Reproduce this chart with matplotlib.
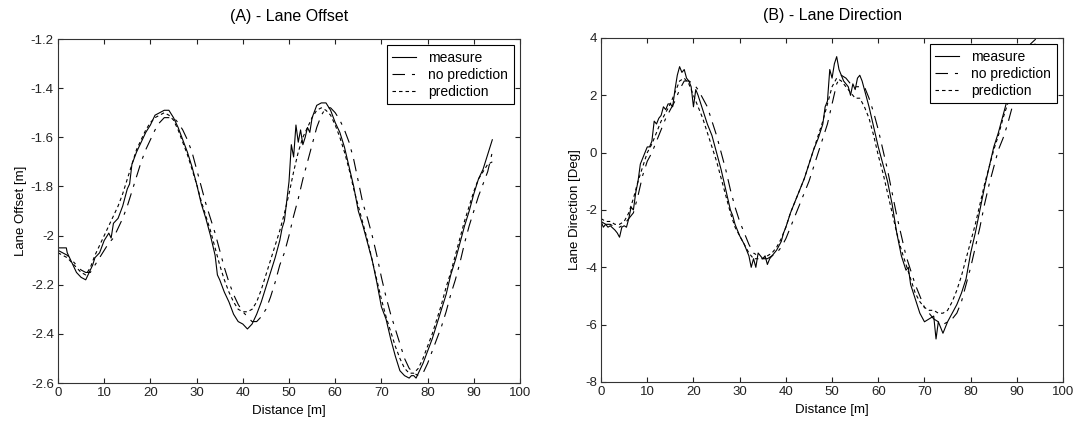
import numpy as np
import matplotlib
matplotlib.use('Agg')
import matplotlib.pyplot as plt
from matplotlib.ticker import FuncFormatter

plt.rcParams['font.family'] = ['Liberation Sans', 'DejaVu Sans']
plt.rcParams['lines.scale_dashes'] = False

# distance grid for the filtered curves [m]
dist = np.arange(0, 95)

# (A) lane offset [m]
offset_meas_x = [0, 1.8, 2, 3, 4, 5, 6, 6.5, 7, 7.5, 8, 9, 10, 11, 11.5, 12, 13, 14, 15, 15.5,
                 16, 17, 18, 19, 20, 21, 22, 23, 24, 25, 26, 27, 28, 29, 30, 31, 32, 33, 34, 34.5,
                 35, 36, 37, 38, 39, 40, 41, 42, 43, 44, 45, 46, 47, 48, 48.5, 49, 49.5, 50, 50.5, 51,
                 51.5, 52, 52.5, 53, 53.5, 54, 54.5, 55, 56, 57, 58, 59, 60, 61, 62, 63, 64, 65, 66, 67,
                 68, 69, 70, 71, 72, 73, 74, 75, 76, 76.5, 77, 77.5, 78, 79, 80, 81, 82, 83, 84, 85,
                 86, 87, 88, 89, 90, 91, 92, 93, 94]
offset_meas = [-2.05, -2.05, -2.07, -2.11, -2.15, -2.17, -2.18, -2.16, -2.14, -2.12, -2.09, -2.07, -2.02, -1.99, -2.01, -1.95, -1.93, -1.88, -1.81, -1.79,
               -1.71, -1.66, -1.62, -1.58, -1.55, -1.51, -1.50, -1.49, -1.49, -1.52, -1.56, -1.61, -1.66, -1.72, -1.79, -1.87, -1.93, -2.00, -2.08, -2.16,
               -2.18, -2.23, -2.27, -2.32, -2.35, -2.36, -2.38, -2.36, -2.32, -2.27, -2.21, -2.15, -2.09, -2.02, -1.97, -1.94, -1.86, -1.78, -1.63, -1.68,
               -1.55, -1.62, -1.57, -1.63, -1.60, -1.56, -1.58, -1.52, -1.47, -1.46, -1.46, -1.49, -1.54, -1.58, -1.64, -1.72, -1.80, -1.90, -1.96, -2.03,
               -2.10, -2.19, -2.29, -2.34, -2.42, -2.49, -2.55, -2.57, -2.58, -2.57, -2.57, -2.58, -2.56, -2.52, -2.47, -2.42, -2.36, -2.30, -2.24, -2.16,
               -2.10, -2.03, -1.96, -1.90, -1.83, -1.77, -1.73, -1.67, -1.61]
offset_nopred = [-2.06, -2.07, -2.08, -2.10, -2.12, -2.14, -2.15, -2.15, -2.12, -2.09,
                 -2.06, -2.03, -2.01, -1.97, -1.93, -1.88, -1.82, -1.76, -1.70, -1.65,
                 -1.61, -1.57, -1.54, -1.52, -1.52, -1.52, -1.54, -1.57, -1.61, -1.66,
                 -1.73, -1.80, -1.87, -1.93, -1.99, -2.06, -2.13, -2.19, -2.24, -2.28,
                 -2.31, -2.33, -2.35, -2.35, -2.33, -2.30, -2.25, -2.19, -2.12, -2.07,
                 -2.00, -1.92, -1.85, -1.77, -1.70, -1.63, -1.56, -1.51, -1.48, -1.48,
                 -1.50, -1.53, -1.57, -1.62, -1.69, -1.78, -1.87, -1.93, -2.00, -2.08,
                 -2.17, -2.25, -2.32, -2.38, -2.44, -2.50, -2.54, -2.56, -2.57, -2.56,
                 -2.52, -2.47, -2.42, -2.37, -2.31, -2.24, -2.18, -2.11, -2.03, -1.96,
                 -1.90, -1.84, -1.79, -1.74, -1.66]
offset_pred = [-2.07, -2.08, -2.09, -2.11, -2.13, -2.15, -2.16, -2.13, -2.08, -2.04,
               -2.00, -1.96, -1.92, -1.88, -1.83, -1.77, -1.71, -1.65, -1.61, -1.57,
               -1.54, -1.52, -1.51, -1.50, -1.51, -1.53, -1.57, -1.62, -1.67, -1.73,
               -1.79, -1.86, -1.92, -1.98, -2.05, -2.12, -2.18, -2.23, -2.27, -2.30,
               -2.31, -2.31, -2.30, -2.27, -2.22, -2.16, -2.10, -2.04, -1.98, -1.91,
               -1.83, -1.74, -1.66, -1.60, -1.56, -1.52, -1.49, -1.48, -1.49, -1.51,
               -1.55, -1.60, -1.66, -1.73, -1.81, -1.88, -1.95, -2.02, -2.10, -2.18,
               -2.26, -2.33, -2.39, -2.45, -2.50, -2.54, -2.56, -2.56, -2.54, -2.50,
               -2.45, -2.40, -2.34, -2.28, -2.21, -2.15, -2.08, -2.01, -1.94, -1.88,
               -1.82, -1.77, -1.74, -1.71, -1.70]

# (B) lane direction [deg]
dir_meas_x = [0, 0.5, 1, 1.5, 2, 3, 3.5, 4, 4.5, 5, 5.5, 6, 6.5, 7, 7.5, 8, 8.5, 9, 9.5, 10,
              10.5, 11, 11.5, 12, 12.5, 13, 13.5, 14, 14.5, 15, 15.5, 16, 16.5, 17, 17.5, 18, 18.5, 19, 19.5, 20,
              20.5, 21, 22, 23, 24, 25, 26, 27, 28, 28.5, 29, 30, 31, 32, 32.5, 33, 33.5, 34, 34.5, 35,
              35.5, 36, 36.5, 37, 38, 39, 39.5, 40, 41, 42, 43, 44, 45, 46, 47, 48, 48.5, 49, 49.5, 50,
              50.5, 51, 51.5, 52, 52.5, 53, 53.5, 54, 54.5, 55, 55.5, 56, 56.5, 57, 58, 59, 60, 61, 62, 63,
              64, 65, 66, 66.5, 67, 68, 69, 70, 71, 72, 72.5, 73, 74, 75, 76, 77, 78, 79, 80, 81,
              82, 83, 84, 85, 86, 87, 88, 89, 90, 91, 92, 93, 94]
dir_meas = [-2.4, -2.6, -2.5, -2.6, -2.55, -2.7, -2.8, -2.95, -2.6, -2.55, -2.6, -2.3, -1.9, -2.0, -1.4, -1.0, -0.4, -0.2, 0.0, 0.2,
            0.2, 0.4, 1.1, 1.0, 1.2, 1.3, 1.6, 1.5, 1.7, 1.7, 1.6, 2.2, 2.7, 3.0, 2.8, 2.9, 2.6, 2.5, 2.3, 1.6,
            2.2, 2.0, 1.5, 1.0, 0.6, 0.0, -0.6, -1.3, -2.0, -2.2, -2.5, -2.9, -3.2, -3.6, -4.0, -3.7, -4.0, -3.5, -3.6, -3.7,
            -3.6, -3.9, -3.7, -3.6, -3.4, -3.1, -2.8, -2.6, -2.1, -1.7, -1.3, -0.9, -0.4, 0.1, 0.5, 1.0, 1.6, 1.8, 2.9, 2.6,
            3.1, 3.35, 2.9, 2.7, 2.5, 2.4, 2.3, 2.0, 2.4, 2.2, 2.6, 2.7, 2.5, 2.2, 1.6, 0.9, 0.2, -0.4, -1.0, -1.8,
            -2.8, -3.6, -4.1, -4.0, -4.6, -5.1, -5.6, -5.9, -5.8, -5.7, -6.5, -5.9, -6.3, -5.9, -5.6, -5.3, -4.9, -4.4, -3.5, -2.8,
            -2.0, -1.2, -0.5, 0.2, 0.7, 1.3, 1.9, 2.5, 2.9, 3.3, 3.6, 3.8, 3.95]
dir_nopred = [-2.4, -2.5, -2.5, -2.6, -2.6, -2.5, -2.3, -2.1, -1.5, -0.8,
              -0.3, 0.0, 0.4, 0.8, 1.2, 1.5, 1.8, 2.2, 2.5, 2.5,
              2.4, 2.2, 1.9, 1.6, 1.1, 0.6, 0.0, -0.6, -1.3, -1.9,
              -2.4, -2.8, -3.2, -3.5, -3.6, -3.7, -3.7, -3.6, -3.5, -3.3,
              -3.0, -2.6, -2.2, -1.8, -1.4, -1.0, -0.5, 0.0, 0.5, 1.0,
              1.7, 2.4, 2.7, 2.6, 2.4, 2.3, 2.3, 2.3, 1.9, 1.4,
              0.8, 0.1, -0.6, -1.4, -2.2, -2.9, -3.6, -4.1, -4.6, -5.0,
              -5.4, -5.6, -5.8, -5.9, -6.0, -5.9, -5.8, -5.6, -5.2, -4.6,
              -4.0, -3.3, -2.6, -1.8, -1.1, -0.5, 0.1, 0.5, 1.0, 1.6,
              2.2, 2.7, 3.1, 3.5, 3.8]
dir_pred = [-2.3, -2.4, -2.4, -2.5, -2.5, -2.4, -2.1, -1.6, -1.0, -0.5,
            0.0, 0.3, 0.7, 1.1, 1.4, 1.7, 2.1, 2.5, 2.6, 2.4,
            2.0, 1.6, 1.2, 0.7, 0.2, -0.3, -0.9, -1.5, -2.1, -2.6,
            -2.9, -3.2, -3.5, -3.7, -3.7, -3.7, -3.6, -3.5, -3.3, -3.0,
            -2.6, -2.1, -1.7, -1.3, -0.9, -0.4, 0.1, 0.6, 1.1, 1.7,
            2.3, 2.6, 2.5, 2.3, 2.1, 1.9, 1.9, 1.6, 1.2, 0.6,
            -0.1, -0.7, -1.4, -2.1, -2.8, -3.4, -3.9, -4.4, -4.9, -5.2,
            -5.4, -5.5, -5.5, -5.6, -5.6, -5.5, -5.2, -4.8, -4.3, -3.7,
            -3.1, -2.5, -1.8, -1.1, -0.5, 0.1, 0.6, 1.2, 1.7, 2.2,
            2.6, 3.0, 3.3, 3.6, 3.8]

series_names = ['measure', 'no prediction', 'prediction']

fig = plt.figure(figsize=(10.76, 4.25), dpi=100)
ax1 = fig.add_axes([0.0539, 0.0988, 0.4294, 0.8094])
ax2 = fig.add_axes([0.5586, 0.1012, 0.4294, 0.8094])

fmt = FuncFormatter(lambda v, p: '%g' % round(v, 6))

def draw(ax, mx, my, nop, pre, title, ylabel, ylim, yticks):
    ax.plot(mx, my, color='black', lw=0.8, label=series_names[0])
    ax.plot(dist, nop, color='black', lw=0.8, dashes=(9, 5, 2.2, 5), label=series_names[1])
    ax.plot(dist, pre, color='black', lw=0.8, dashes=(2.5, 2.2), label=series_names[2])
    ax.set_xlim(0, 100)
    ax.set_ylim(*ylim)
    ax.set_xticks(np.arange(0, 101, 10))
    ax.set_yticks(yticks)
    ax.xaxis.set_major_formatter(fmt)
    ax.yaxis.set_major_formatter(fmt)
    ax.tick_params(direction='in', top=True, right=True, length=3.5, width=0.8,
                   labelsize=9.5, pad=3, colors='#222222')
    for s in ax.spines.values():
        s.set_linewidth(0.8)
        s.set_color('#333333')
    ax.set_title(title, fontsize=11.5, pad=13)
    ax.set_xlabel('Distance [m]', fontsize=9.5, labelpad=4.5)
    ax.set_ylabel(ylabel, fontsize=9.5, labelpad=3)
    leg = ax.legend(loc='upper right', fontsize=10, fancybox=False, framealpha=1,
                    edgecolor='black', handlelength=1.7, handletextpad=0.9,
                    borderpad=0.4, labelspacing=0.22, borderaxespad=0.45)
    leg.get_frame().set_linewidth(0.8)

draw(ax1, offset_meas_x, offset_meas, offset_nopred, offset_pred,
     '(A) - Lane Offset', 'Lane Offset [m]', (-2.6, -1.2), np.arange(-2.6, -1.19, 0.2))
draw(ax2, dir_meas_x, dir_meas, dir_nopred, dir_pred,
     '(B) - Lane Direction', 'Lane Direction [Deg]', (-8, 4), np.arange(-8, 5, 2))

fig.savefig('out.png', dpi=100)
